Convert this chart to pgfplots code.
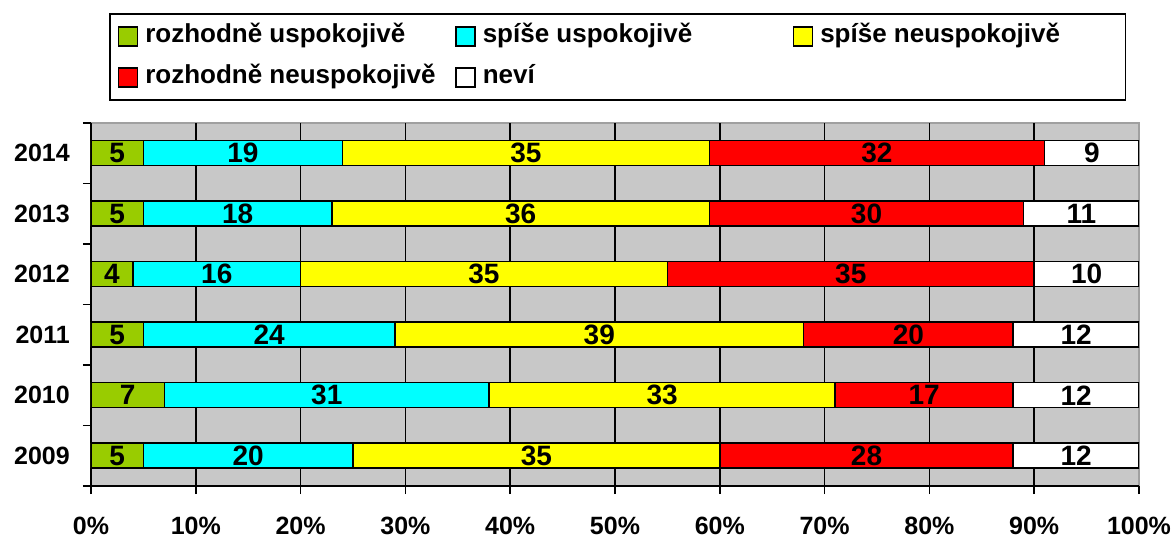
\documentclass[border=0pt]{standalone}
\usepackage{pgfplots}
\pgfplotsset{compat=1.18}
\usepackage{pgfplotstable}
\usepackage{fontspec}
\setmainfont{Liberation Sans}
\definecolor{cgreen}{HTML}{99CC00}
\definecolor{ccyan}{HTML}{00FFFF}
\definecolor{cyellow}{HTML}{FFFF00}
\definecolor{cred}{HTML}{FF0000}
\definecolor{bggrey}{HTML}{C8C8C8}
\definecolor{bdgrey}{HTML}{A0A0A0}
\newcommand{\fa}{\fontsize{25}{30}\selectfont\bfseries}
\newcommand{\fb}{\fontsize{28}{34}\selectfont\bfseries}
\newcommand{\fl}{\fontsize{26}{31}\selectfont\bfseries}
\pgfplotsset{my legend/.style={legend image code/.code={\draw[##1,line width=1.5pt] (0pt,-9.5pt) rectangle (19pt,9.5pt);}}}

\pgfplotstableread{
y v
0 5
1 7
2 5
3 4
4 5
5 5
}\tA
\pgfplotstableread{
y v
0 20
1 31
2 24
3 16
4 18
5 19
}\tB
\pgfplotstableread{
y v
0 35
1 33
2 39
3 35
4 36
5 35
}\tC
\pgfplotstableread{
y v
0 28
1 17
2 20
3 35
4 30
5 32
}\tD
\pgfplotstableread{
y v
0 12
1 12
2 12
3 10
4 11
5 9
}\tE

\begin{document}
\begin{tikzpicture}
\useasboundingbox (0,0) rectangle (1175pt,538pt);
\begin{axis}[
  at={(91pt,52pt)}, anchor=south west,
  scale only axis, width=1048pt, height=363pt,
  xbar stacked, bar width=25pt,
  xmin=0, xmax=100, ymin=-0.5, ymax=5.5,
  axis lines=left,
  axis line style={-, black, line width=1.6pt},
  axis background/.style={fill=bggrey, draw=bdgrey, line width=2pt},
  tick align=outside,
  major tick length=8pt, minor tick length=8pt,
  xtick={0,10,...,100},
  xticklabels={0\%,10\%,20\%,30\%,40\%,50\%,60\%,70\%,80\%,90\%,100\%},
  minor xtick={10,20,...,90},
  xminorgrids,
  minor x grid style={black, line width=1.6pt},
  minor x tick style={draw=none},
  x tick style={black, line width=1.6pt},
  ytick={0,...,5},
  yticklabels={2009,2010,2011,2012,2013,2014},
  minor ytick={-0.5,0.5,...,5.5},
  y tick style={draw=none},
  minor y tick style={draw=black, line width=1.6pt},
  xticklabel style={font=\fa, anchor=north, inner sep=0pt, yshift=-23pt},
  yticklabel style={font=\fa, anchor=east, inner sep=0pt, xshift=-13pt},
  /pgf/number format/assume math mode=true,
  point meta=explicit,
  nodes near coords={\pgfmathprintnumber{\pgfplotspointmeta}},
  nodes near coords align={center},
  every node near coord/.append style={font=\fb, anchor=center, inner sep=0pt, text=black},
  legend columns=3,
  legend cell align=left,
  legend style={at={(0.01718,1.3030)}, anchor=north west, draw=black, line width=1.5pt,
    inner xsep=8pt, inner ysep=10pt, row sep=16pt, column sep=0pt,
    font=\fl, nodes={inner sep=0pt, text height=19pt, text depth=6pt}},
]
\addplot[fill=cgreen, draw=black, line width=1.5pt, my legend] table[x=v,y=y,meta=v]{\tA};
\addlegendentry{\makebox[317pt][l]{\hspace{7pt}rozhodně uspokojivě}}
\addplot[fill=ccyan, draw=black, line width=1.5pt, my legend] table[x=v,y=y,meta=v]{\tB};
\addlegendentry{\makebox[317pt][l]{\hspace{7pt}spíše uspokojivě}}
\addplot[fill=cyellow, draw=black, line width=1.5pt, my legend] table[x=v,y=y,meta=v]{\tC};
\addlegendentry{\makebox[304pt][l]{\hspace{7pt}spíše neuspokojivě}}
\addplot[fill=cred, draw=black, line width=1.5pt, my legend] table[x=v,y=y,meta=v]{\tD};
\addlegendentry{\makebox[317pt][l]{\hspace{7pt}rozhodně neuspokojivě}}
\addplot[fill=white, draw=black, line width=1.5pt, my legend] table[x=v,y=y,meta=v]{\tE};
\addlegendentry{\makebox[317pt][l]{\hspace{7pt}neví}}
\end{axis}
\end{tikzpicture}
\end{document}
